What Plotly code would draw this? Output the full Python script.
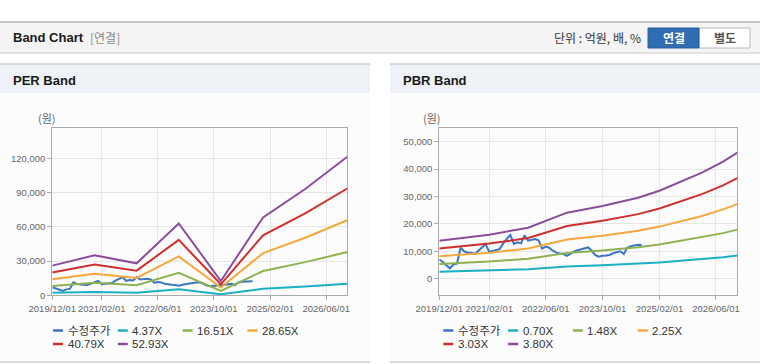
import pandas as pd
import plotly.graph_objects as go

W, H = 760, 364

# ---------------- data ----------------
# adjusted stock price (monthly, from 2019/12)
price = [7000, 6100, 4800, 3800, 5200, 5600, 11300, 10000, 9500, 9500,
         9000, 10200, 11200, 12600, 9800, 10100, 10500, 10800, 12900, 14500,
         16000, 12700, 13300, 12900, 15800, 13900, 14200, 14500, 14000, 11000,
         11700, 11300, 10200, 9500, 9200, 9000, 8300, 9300, 10000, 10400,
         10800, 11200, 11400, 10200, 8600, 8000, 8400, 8500, 8650, 9300,
         9700, 10000, 9000, 11300, 11900, 12100, 12400, 12300]
price_start = "2019-12-01"

# EPS basis for PER band
eps_dates = ["2019-12-01", "2020-12-01", "2021-12-01", "2022-12-01",
             "2023-12-01", "2024-12-01", "2025-12-01", "2026-12-01"]
eps_vals = [491, 661, 529, 1190, 236, 1290, 1760, 2294]
per_mults = [4.37, 16.51, 28.65, 40.79, 52.93]
per_labels = ["4.37X", "16.51X", "28.65X", "40.79X", "52.93X"]

# BPS basis for PBR band
bps_dates = ["2019-12-01", "2021-02-01", "2022-01-01", "2022-06-01",
             "2022-12-01", "2023-10-01", "2024-08-01", "2025-02-01",
             "2025-08-01", "2026-02-01", "2026-08-01", "2026-12-01"]
bps_vals = [3650, 4226, 4895, 5571, 6342, 6982, 7780, 8450,
            9320, 10180, 11240, 12105]
pbr_mults = [0.70, 1.48, 2.25, 3.03, 3.80]
pbr_labels = ["0.70X", "1.48X", "2.25X", "3.03X", "3.80X"]

price_label = "수정주가"
x_tickvals = ["2019-12-01", "2021-02-01", "2022-06-01", "2023-10-01",
              "2025-02-01", "2026-06-01"]
x_ticktext = ["2019/12/01", "2021/02/01", "2022/06/01", "2023/10/01",
              "2025/02/01", "2026/06/01"]
x_range = ["2019-12-01", "2026-12-01"]
per_yticks = [0, 30000, 60000, 90000, 120000]
pbr_yticks = [0, 10000, 20000, 30000, 40000, 50000]

colors = ["#3a76c4", "#1bb0c6", "#8cb34f", "#f4a83c", "#cf2f2c", "#8c4c9c"]

# ---------------- helpers ----------------
def px(x):
    return x / W


def py(y):
    return 1 - y / H


price_dates = pd.date_range(price_start, periods=len(price), freq="MS")

fig = go.Figure()

# PER chart traces
fig.add_trace(go.Scatter(x=price_dates, y=price, mode="lines",
                         line=dict(color=colors[0], width=2),
                         xaxis="x", yaxis="y", showlegend=False))
for i, m in enumerate(per_mults):
    fig.add_trace(go.Scatter(x=eps_dates, y=[m * e for e in eps_vals],
                             mode="lines", line=dict(color=colors[i + 1], width=2),
                             xaxis="x", yaxis="y", showlegend=False))

# PBR chart traces
fig.add_trace(go.Scatter(x=price_dates, y=price, mode="lines",
                         line=dict(color=colors[0], width=2),
                         xaxis="x2", yaxis="y2", showlegend=False))
for i, m in enumerate(pbr_mults):
    fig.add_trace(go.Scatter(x=bps_dates, y=[m * b for b in bps_vals],
                             mode="lines", line=dict(color=colors[i + 1], width=2),
                             xaxis="x2", yaxis="y2", showlegend=False))

tickfont = dict(family="Liberation Sans, Arial, sans-serif", size=9.5, color="#666")

common_x = dict(type="date", range=x_range, tickvals=x_tickvals, ticktext=x_ticktext,
                tickangle=0, automargin=False,
                showgrid=True, gridcolor="#e6e6e6", gridwidth=1,
                showline=True, linecolor="#aaaaaa", linewidth=1, mirror=True,
                ticks="outside", ticklen=4, tickcolor="#aaaaaa",
                tickfont=tickfont, zeroline=False, fixedrange=True)
common_y = dict(showgrid=True, gridcolor="#e6e6e6", gridwidth=1, automargin=False,
                showline=True, linecolor="#aaaaaa", linewidth=1, mirror=True,
                ticks="outside", ticklen=4, tickcolor="#aaaaaa",
                tickfont=tickfont, tickformat=",d", zeroline=False, fixedrange=True)

top, bot = 128.3, 295.3
fig.update_layout(
    width=W, height=H, autosize=False,
    margin=dict(l=0, r=0, t=0, b=0, pad=0, autoexpand=False),
    paper_bgcolor="white", plot_bgcolor="white",
    showlegend=False,
    xaxis=dict(common_x, domain=[px(52.3), px(347.3)], anchor="y"),
    yaxis=dict(common_y, domain=[py(bot), py(top)], anchor="x",
               range=[0, 146300], tickvals=per_yticks),
    xaxis2=dict(common_x, domain=[px(439.3), px(737.3)], anchor="y2"),
    yaxis2=dict(common_y, domain=[py(bot), py(top)], anchor="x2",
                range=[-6060, 54890], tickvals=pbr_yticks),
)

shapes = []
annos = []

# ---- page header ----
shapes.append(dict(type="rect", xref="paper", yref="paper", x0=0, x1=1,
                   y0=py(54), y1=py(52), fillcolor="#e2e2e2", line_width=0, layer="below"))
shapes.append(dict(type="rect", xref="paper", yref="paper", x0=0, x1=1,
                   y0=py(52), y1=py(22), fillcolor="#f4f4f4", line_width=0, layer="below"))
shapes.append(dict(type="line", xref="paper", yref="paper", x0=0, x1=1,
                   y0=py(22), y1=py(22), line=dict(color="#b5b5b5", width=1.5), layer="below"))

kr = "Noto Sans CJK KR, sans-serif"
bold = "Liberation Sans, Arial, sans-serif"
annos.append(dict(x=px(11), y=py(38), xref="paper", yref="paper", text="<b>Band Chart</b>",
                  showarrow=False, xanchor="left", yanchor="middle",
                  font=dict(family=bold, size=13, color="#1a1a1a")))
annos.append(dict(x=px(88), y=py(38), xref="paper", yref="paper", text="[연결]",
                  showarrow=False, xanchor="left", yanchor="middle",
                  font=dict(family=kr, size=12, color="#8a8a8a")))
annos.append(dict(x=px(643), y=py(38), xref="paper", yref="paper", text="단위 : 억원, 배, %",
                  showarrow=False, xanchor="right", yanchor="middle",
                  font=dict(family=kr, size=12, color="#333")))
# buttons
shapes.append(dict(type="rect", xref="paper", yref="paper", x0=px(699), x1=px(750),
                   y0=py(48), y1=py(28), fillcolor="white",
                   line=dict(color="#bbbbbb", width=1), layer="below"))
shapes.append(dict(type="rect", xref="paper", yref="paper", x0=px(648), x1=px(699),
                   y0=py(48), y1=py(28), fillcolor="#2f6db3",
                   line=dict(color="#2a5f9e", width=1), layer="below"))
annos.append(dict(x=px(673.5), y=py(38), xref="paper", yref="paper", text="<b>연결</b>",
                  showarrow=False, xanchor="center", yanchor="middle",
                  font=dict(family=kr, size=12, color="white")))
annos.append(dict(x=px(724.5), y=py(38), xref="paper", yref="paper", text="<b>별도</b>",
                  showarrow=False, xanchor="center", yanchor="middle",
                  font=dict(family=kr, size=12, color="#555")))

# ---- panels ----
for (x0, x1, title, ytitle_x) in [(0, 370, "PER Band", 46.7), (390, 760, "PBR Band", 432.3)]:
    shapes.append(dict(type="rect", xref="paper", yref="paper", x0=px(x0), x1=px(x1),
                       y0=py(362), y1=py(93), fillcolor="#fcfcfc", line_width=0, layer="below"))
    shapes.append(dict(type="rect", xref="paper", yref="paper", x0=px(x0), x1=px(x1),
                       y0=py(93), y1=py(64), fillcolor="#eef1f6", line_width=0, layer="below"))
    shapes.append(dict(type="line", xref="paper", yref="paper", x0=px(x0), x1=px(x1),
                       y0=py(64), y1=py(64), line=dict(color="#cfcfcf", width=1.5), layer="below"))
    shapes.append(dict(type="line", xref="paper", yref="paper", x0=px(x0), x1=px(x1),
                       y0=py(362), y1=py(362), line=dict(color="#d0d0d0", width=1.5), layer="below"))
    annos.append(dict(x=px(x0 + 11), y=py(80), xref="paper", yref="paper",
                      text="<b>" + title + "</b>", showarrow=False, xanchor="left",
                      yanchor="middle", font=dict(family=bold, size=13, color="#1a1a1a")))
    annos.append(dict(x=px(ytitle_x), y=py(118), xref="paper", yref="paper",
                      text="(원)", showarrow=False, xanchor="center", yanchor="middle",
                      font=dict(family=kr, size=11, color="#666")))

# ---- legends ----
def add_legend(x_start, labels):
    names = [price_label] + labels
    for i, name in enumerate(names):
        row, col = divmod(i, 4)
        sx = x_start + col * 64.8
        sy = 330.5 + row * 13.5
        shapes.append(dict(type="line", xref="paper", yref="paper",
                           x0=px(sx), x1=px(sx + 10), y0=py(sy), y1=py(sy),
                           line=dict(color=colors[i], width=2.5)))
        annos.append(dict(x=px(sx + 12.5), y=py(sy), xref="paper", yref="paper",
                          text=name, showarrow=False, xanchor="left", yanchor="middle",
                          font=dict(family="Liberation Sans, " + kr, size=11.5, color="#333")))


add_legend(53, per_labels)
add_legend(443.3, pbr_labels)

fig.update_layout(shapes=shapes, annotations=annos)
fig.write_html("out.html", config={"displayModeBar": False},
               post_script="document.body.style.margin='0';document.body.style.overflow='hidden';")
